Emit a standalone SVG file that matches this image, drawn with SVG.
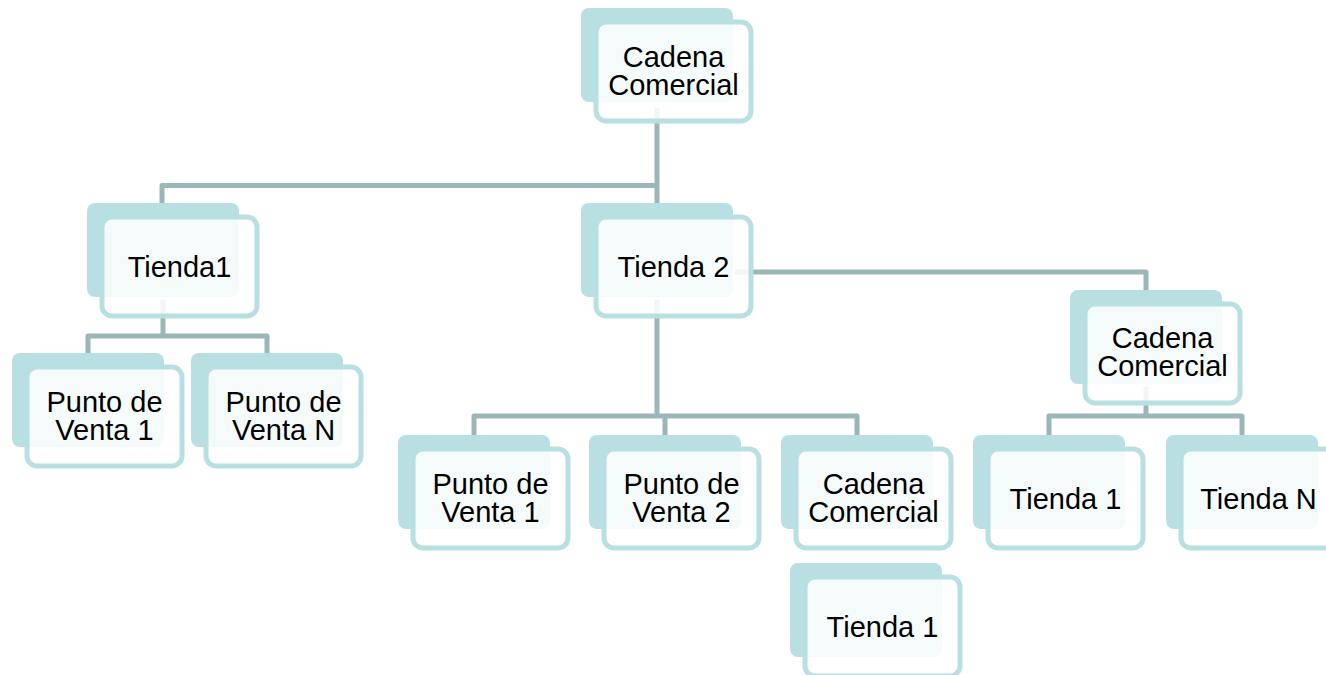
<svg xmlns="http://www.w3.org/2000/svg" width="1326" height="675" viewBox="0 0 1326 675">
<style>
.bk{fill:#b8dfe2}
.fr{fill:#ffffff;fill-opacity:0.86;stroke:#b8dfe2;stroke-width:5}
.t{font-family:"Liberation Sans",Arial,sans-serif;font-size:29px;fill:#000;text-anchor:middle}
.c{fill:none;stroke:#9bb6b9;stroke-width:5;stroke-linejoin:round}
</style>
<rect width="1326" height="675" fill="#fff"/>
<g id="connectors">
<path class="c" d="M657,108 V203 M657,185.5 H162 V203"/>
<path class="c" d="M163,300 V336 M88,353 V336 H267 V353"/>
<path class="c" d="M657,300 V416 M474,435 V416 H857 V435 M665,416 V435"/>
<path class="c" d="M735,272 H1146 V290"/>
<path class="c" d="M1146,387 V416 M1049,435 V416 H1242 V435"/>
</g>
<g id="n-top"><rect class="bk" x="581" y="8" width="152" height="94" rx="8"/><rect class="fr" x="596" y="22" width="155" height="99" rx="10"/><text class="t" x="673.5" y="67">Cadena</text><text class="t" x="673.5" y="95">Comercial</text></g>
<g id="n-tienda1"><rect class="bk" x="87" y="203" width="152" height="94" rx="8"/><rect class="fr" x="102" y="217" width="155" height="99" rx="10"/><text class="t" x="179.5" y="276.5">Tienda1</text></g>
<g id="n-tienda2"><rect class="bk" x="581" y="203" width="152" height="94" rx="8"/><rect class="fr" x="596" y="217" width="155" height="99" rx="10"/><text class="t" x="673.5" y="276.5">Tienda 2</text></g>
<g id="n-cc-right"><rect class="bk" x="1070" y="290" width="152" height="94" rx="8"/><rect class="fr" x="1085" y="304" width="155" height="99" rx="10"/><text class="t" x="1162.5" y="348">Cadena</text><text class="t" x="1162.5" y="376">Comercial</text></g>
<g id="n-pdv1-left"><rect class="bk" x="12" y="353" width="152" height="94" rx="8"/><rect class="fr" x="27" y="367" width="155" height="99" rx="10"/><text class="t" x="104.5" y="412">Punto de</text><text class="t" x="104.5" y="440">Venta 1</text></g>
<g id="n-pdvn"><rect class="bk" x="191" y="353" width="152" height="94" rx="8"/><rect class="fr" x="206" y="367" width="155" height="99" rx="10"/><text class="t" x="283.5" y="412">Punto de</text><text class="t" x="283.5" y="440">Venta N</text></g>
<g id="n-pdv1-mid"><rect class="bk" x="398" y="435" width="152" height="94" rx="8"/><rect class="fr" x="413" y="449" width="155" height="99" rx="10"/><text class="t" x="490.5" y="494">Punto de</text><text class="t" x="490.5" y="522">Venta 1</text></g>
<g id="n-pdv2"><rect class="bk" x="589" y="435" width="152" height="94" rx="8"/><rect class="fr" x="604" y="449" width="155" height="99" rx="10"/><text class="t" x="681.5" y="494">Punto de</text><text class="t" x="681.5" y="522">Venta 2</text></g>
<g id="n-cc-mid"><rect class="bk" x="781" y="435" width="152" height="94" rx="8"/><rect class="fr" x="796" y="449" width="155" height="99" rx="10"/><text class="t" x="873.5" y="494">Cadena</text><text class="t" x="873.5" y="522">Comercial</text></g>
<g id="n-tienda1-bottom"><rect class="bk" x="790" y="563" width="152" height="94" rx="8"/><rect class="fr" x="805" y="577" width="155" height="99" rx="10"/><text class="t" x="882.5" y="636.5">Tienda 1</text></g>
<g id="n-tienda1-right"><rect class="bk" x="973" y="435" width="152" height="94" rx="8"/><rect class="fr" x="988" y="449" width="155" height="99" rx="10"/><text class="t" x="1065.5" y="508.5">Tienda 1</text></g>
<g id="n-tiendan"><rect class="bk" x="1166" y="435" width="152" height="94" rx="8"/><rect class="fr" x="1181" y="449" width="155" height="99" rx="10"/><text class="t" x="1258.5" y="508.5">Tienda N</text></g>
</svg>
